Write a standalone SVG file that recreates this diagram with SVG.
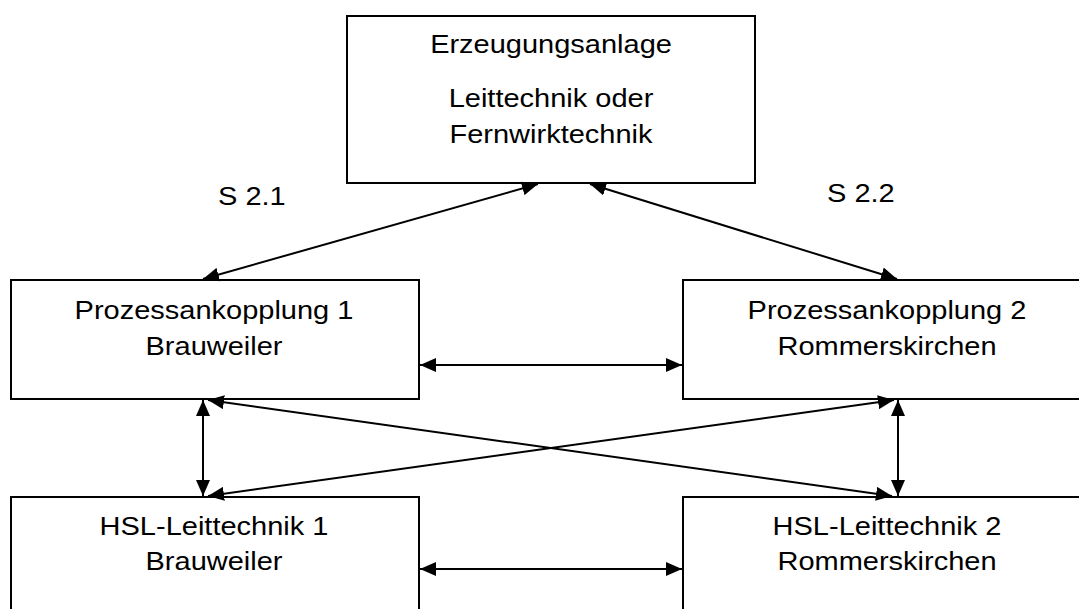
<svg xmlns="http://www.w3.org/2000/svg" width="1079" height="609" viewBox="0 0 1079 609">
<style>
.box{fill:#fff;stroke:#000;stroke-width:2}
.t{font-family:"Liberation Sans",Arial,sans-serif;font-size:25px;fill:#000;text-anchor:middle}
.l{font-family:"Liberation Sans",Arial,sans-serif;font-size:25px;fill:#000}
.c{stroke:#000;stroke-width:2;fill:none;marker-start:url(#ah);marker-end:url(#ah)}
</style>
<defs>
<marker id="ah" viewBox="0 0 16 14" refX="16" refY="7" markerWidth="16" markerHeight="14" markerUnits="userSpaceOnUse" orient="auto-start-reverse">
<path d="M0,0 L16,7 L0,14 Z" fill="#000"/>
</marker>
</defs>
<rect width="1079" height="609" fill="#fff"/>
<g id="erzeugung">
<rect class="box" x="347" y="16" width="408" height="167"/>
<text class="t" transform="translate(551,53) scale(1.16,1)">Erzeugungsanlage</text>
<text class="t" transform="translate(551,107) scale(1.16,1)">Leittechnik oder</text>
<text class="t" transform="translate(551,143) scale(1.16,1)">Fernwirktechnik</text>
</g>
<g id="prozess1">
<rect class="box" x="11" y="280" width="408" height="119"/>
<text class="t" transform="translate(214,319) scale(1.16,1)">Prozessankopplung 1</text>
<text class="t" transform="translate(214,355) scale(1.16,1)">Brauweiler</text>
</g>
<g id="prozess2">
<rect class="box" x="683" y="280" width="420" height="119"/>
<text class="t" transform="translate(887,319) scale(1.16,1)">Prozessankopplung 2</text>
<text class="t" transform="translate(887,355) scale(1.16,1)">Rommerskirchen</text>
</g>
<g id="hsl1">
<rect class="box" x="11" y="497" width="408" height="140"/>
<text class="t" transform="translate(214,535) scale(1.16,1)">HSL-Leittechnik 1</text>
<text class="t" transform="translate(214,570) scale(1.16,1)">Brauweiler</text>
</g>
<g id="hsl2">
<rect class="box" x="683" y="497" width="420" height="140"/>
<text class="t" transform="translate(887,535) scale(1.16,1)">HSL-Leittechnik 2</text>
<text class="t" transform="translate(887,570) scale(1.16,1)">Rommerskirchen</text>
</g>
<g id="labels">
<text class="l" transform="translate(218,205) scale(1.16,1)">S 2.1</text>
<text class="l" transform="translate(827,202) scale(1.16,1)">S 2.2</text>
</g>
<g id="connectors">
<line class="c" x1="538" y1="184" x2="203" y2="279"/>
<line class="c" x1="590" y1="184" x2="897" y2="279"/>
<line class="c" x1="420" y1="365" x2="682" y2="365"/>
<line class="c" x1="203" y1="400" x2="203" y2="496"/>
<line class="c" x1="898" y1="400" x2="898" y2="496"/>
<line class="c" x1="208" y1="400" x2="892" y2="496"/>
<line class="c" x1="208" y1="496" x2="894" y2="400"/>
<line class="c" x1="420" y1="569" x2="682" y2="569"/>
</g>
</svg>
